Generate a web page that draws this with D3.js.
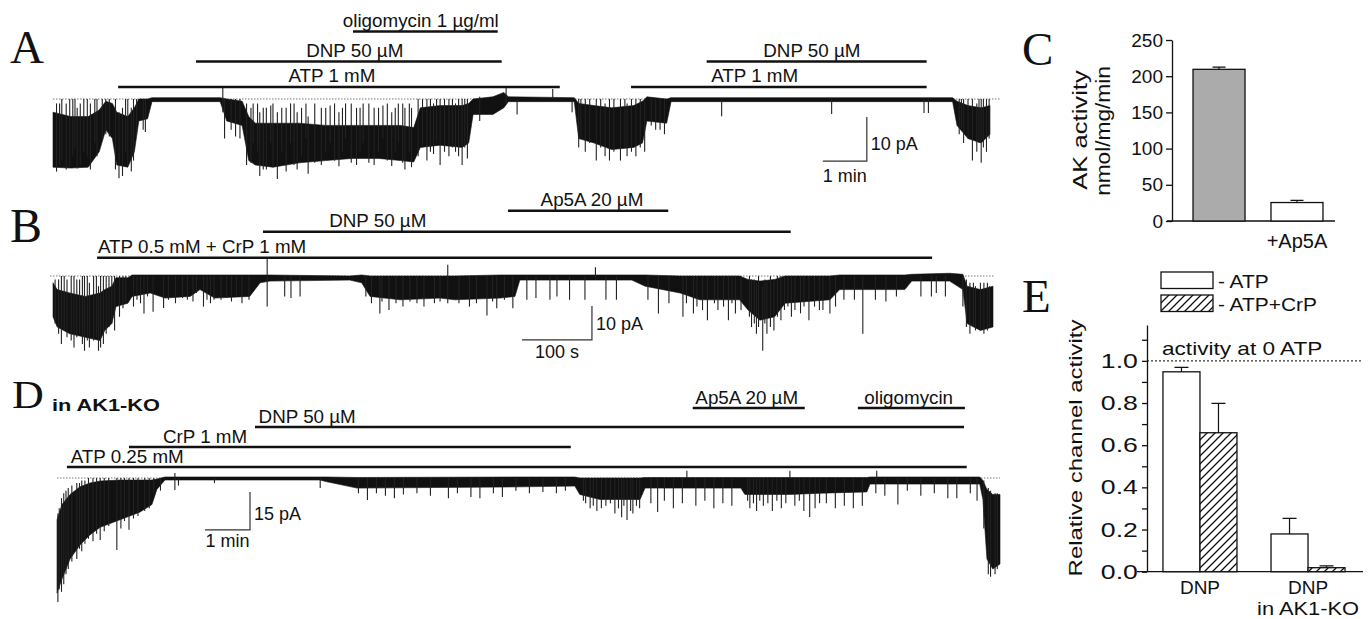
<!DOCTYPE html>
<html>
<head>
<meta charset="utf-8">
<script src="https://cdn.jsdelivr.net/npm/d3@7"></script>
<style>
  body { margin: 0; background: #fff; }
  svg { display: block; }
</style>
</head>
<body>
<svg id="fig" width="1372" height="619"></svg>
<script>
// ---------- data ----------
// traces: [time, top of trace band (pA), bottom of trace band (pA)]
// A, D: time in min, B: time in s. Openings are downward (negative pA).
const traceA_core = [
  [0.00, -3.0, -15.5], [0.40, -4.0, -15.7], [0.80, -4.0, -15.5], [1.05, -2.5, -12.0],
  [1.20, -0.5, -7.0], [1.35, -1.0, -9.0], [1.45, -3.0, -15.0], [1.70, -4.0, -15.5],
  [1.85, -2.0, -12.0], [1.95, 0.0, -5.0], [2.15, 0.0, -4.5], [2.25, 0.3, -0.6],
  [3.80, 0.3, -0.6], [3.95, 0.0, -5.0], [4.30, -0.5, -6.0], [4.45, -4.0, -14.0],
  [4.60, -5.5, -15.0], [5.00, -5.5, -15.5], [5.60, -5.5, -14.5], [6.20, -6.0, -14.0],
  [6.80, -6.0, -13.5], [7.40, -6.0, -13.5], [7.90, -6.0, -14.0], [8.20, -6.5, -14.3],
  [8.35, -2.0, -11.0], [8.80, -1.5, -10.5], [9.30, -1.5, -11.0], [9.45, -1.0, -10.0],
  [9.55, 0.0, -3.5], [10.00, 0.5, -3.5], [10.25, 1.5, -2.0], [10.35, 0.5, -0.6],
  [11.85, 0.3, -0.6], [11.95, -1.0, -9.0], [12.30, -1.5, -10.0], [12.70, -2.0, -11.5],
  [13.20, -1.5, -11.0], [13.40, -0.5, -10.0], [13.50, 0.5, -5.0], [13.95, 0.0, -5.5],
  [14.05, 0.3, -0.6], [20.45, 0.3, -0.6], [20.55, -0.5, -6.0], [20.80, -1.5, -9.0],
  [21.10, -2.0, -10.0], [21.30, -1.5, -8.0]
];
// single excursions: [time, from (pA), to (pA)]
const traceA_spikes = [
  [0.08, -1, -16.5], [0.15, -1, -15], [0.2, 0, -14], [0.3, -1, -16], [0.38, 0, -15.5], [0.45, 0, -13],
  [0.5, 0, -11], [0.55, -2, -15.8], [0.62, -1, -15], [0.7, 0, -12], [0.78, 0, -13], [0.85, -1, -16],
  [0.95, 0, -10], [1.0, 0, -13], [1.12, 0, -9], [1.2, 0, -8], [1.28, 0, -8.5], [1.42, 0, -16],
  [1.5, -3, -18], [1.58, -2, -17.5], [1.65, 0, -12], [1.7, 0, -15], [1.78, -2, -16.5], [1.83, 0, -14],
  [1.9, 0, -8], [2.05, 0, -7], [2.1, 0, -7.5],
  [3.86, 2.5, -3], [3.9, 0, -9], [4.05, 0, -7], [4.15, 0, -8.5], [4.25, 0, -9],
  [4.4, -1, -15], [4.5, -2, -14.5], [4.55, -1, -10], [4.65, -1, -12], [4.7, -3, -17.5], [4.78, -2, -16],
  [4.85, -2, -16], [4.95, -1.5, -10], [5.0, -1, -15.5], [5.1, -3, -18.2], [5.2, -2, -12], [5.3, -2, -16.5],
  [5.4, -1, -10], [5.48, -1, -15], [5.55, -3, -16], [5.65, -2, -13], [5.75, -1, -9], [5.8, -4, -17],
  [5.95, -1, -14.5], [6.1, -2, -15], [6.2, -2, -12], [6.3, -1.5, -10], [6.4, -1, -14], [6.5, -3, -15.3],
  [6.58, -2, -12], [6.65, -1, -9], [6.78, -1, -14.5], [6.9, -2, -15], [6.98, -2, -12], [7.05, -1, -10],
  [7.18, -1, -14.5], [7.3, -2, -15], [7.4, -2, -12], [7.5, -1.5, -9], [7.6, -1, -14], [7.7, -3, -15.2],
  [7.78, -2, -12], [7.85, -1, -10], [7.95, -1, -14.5], [8.0, -2, -16], [8.1, -1, -12], [8.15, -2, -15.5],
  [8.3, 0, -13], [8.4, 0, -11], [8.5, 0, -14], [8.58, 0, -12], [8.65, -1, -12.5], [8.72, 0, -10],
  [8.8, 0, -15], [8.9, 0, -12], [9.0, 0, -13], [9.08, 0, -11], [9.15, -1, -12], [9.22, 0, -13],
  [9.3, 0, -15], [9.36, 0, -11], [9.42, 0, -13.5], [9.7, 0.5, -5], [10.3, 2.5, -1], [10.55, 0, -3.5],
  [11.36, 2.3, 0], [11.8, 0, -3],
  [11.95, 0, -11], [12.0, 0, -9], [12.1, 0, -12], [12.2, 0, -10], [12.35, 0, -14], [12.45, 0, -11],
  [12.55, -1, -13], [12.65, 0, -14], [12.75, 0, -12], [12.9, 0, -14], [13.0, 0, -11], [13.05, -1, -13],
  [13.15, 0, -12], [13.25, 0, -13], [13.35, 0, -11], [13.45, 0, -12], [13.6, 0, -6], [13.7, 0, -7],
  [13.8, 0, -7], [13.9, 0, -8],
  [15.2, 0, -3.9], [17.7, 0, -3.4], [19.8, 0, -3.2], [19.9, 0, -3.2],
  [20.6, 0, -8], [20.65, 0, -7], [20.7, 0, -10], [20.8, 0, -9], [20.9, 0, -14], [21.0, -1, -12],
  [21.05, 0, -10], [21.1, 0, -14.5], [21.15, 0, -11], [21.22, 0, -12], [21.28, 0, -9]
];
// drug applications: label, start, end, bar row, where the label is centred
const drugsA = [
  { label: "ATP 1 mM", start: 1.48, end: 11.52, row: 0, labelAt: 6.34 },
  { label: "DNP 50 µM", start: 3.25, end: 10.2, row: 1, labelAt: 6.86 },
  { label: "oligomycin 1 µg/ml", start: 6.82, end: 10.11, row: 2, labelAt: 8.36 },
  { label: "ATP 1 mM", start: 13.14, end: 19.86, row: 0, labelAt: 15.95 },
  { label: "DNP 50 µM", start: 14.86, end: 19.86, row: 1, labelAt: 17.25 }
];

const traceB_core = [
  [0, -2, -12], [6, -4, -15], [24, -5, -17], [46, -6, -18], [67, -5, -19], [74, -4, -16],
  [84, -3, -14], [90, -0.5, -9], [107, -0.5, -8], [113, 0.3, -6], [139, 0.3, -5], [160, 0.3, -6.5],
  [196, 0.3, -6], [210, 0.3, -4], [231, 0.3, -6.5], [281, 0.3, -6], [296, 0.3, -2], [310, 0.3, -1.5],
  [424, 0, -1.2], [441, 0.3, -2], [453, 0, -6], [496, 0, -7], [553, 0, -6.5], [574, 0, -7],
  [639, 0.3, -6.5], [660, 0.3, -6], [667, 0.3, -1.2], [827, 0.3, -1.2], [846, 0.3, -3], [896, 0, -5],
  [924, 0, -7], [981, 0, -7], [993, -1, -10], [1010, -1.5, -13], [1031, -1, -12], [1046, 0, -8],
  [1110, 0, -7], [1124, 0.3, -4], [1217, 0.3, -4], [1227, 0.5, -1.5], [1281, 0.8, -1.5],
  [1300, 0.5, -4], [1306, -3, -14], [1325, -4, -16], [1343, -3, -15]
];
const traceB_spikes = [
  [3, -1, -14], [8, -1, -17], [12, 0, -20], [16, 0, -16], [20, -1, -18], [26, 0, -19], [30, 0, -21],
  [34, -1, -18], [38, -1, -17], [42, 0, -20], [45, 0, -22], [49, 0, -19], [52, -2, -21], [58, 0, -19],
  [62, 0, -18], [65, -3, -22], [68, 0, -21], [72, 0, -20], [76, 0, -17], [80, 0, -15], [84, 0, -14],
  [88, 0, -16], [95, 0, -12], [100, 0, -9.5], [104, 0, -8],
  [115, 0, -9], [120, 0, -7], [125, 0, -8], [130, 0, -11], [135, 0, -6], [143, 0, -10.5], [158, 0, -9.4],
  [165, 0, -7], [175, 0, -8], [185, 0, -6.5], [192, 0, -7], [200, 0, -7.5], [205, 0, -5], [215, 0, -9],
  [220, 0, -7], [225, 0, -8], [230, 0, -7], [240, 0, -7], [248, 0, -6.5], [255, 0, -7.5], [262, 0, -6],
  [270, 0, -8], [280, 0, -7], [306, 5.3, -9], [331, 0, -6], [340, 0, -6.5], [353, 0, -6],
  [447, 0, -6], [455, 0, -8], [467, 0, -11], [470, 0, -7.5], [480, 0, -10], [490, 0, -8], [500, 0, -9],
  [510, 0, -7.5], [520, 0, -8], [530, 0, -9], [545, 0, -8], [553, 0, -7.5], [564, 3.3, -8], [580, 0, -8],
  [595, 0, -9], [605, 0, -8], [620, 0, -11.6], [628, 0, -7.5], [634, 0, -9.5], [645, 0, -7], [657, 0, -9.5],
  [677, 0, -7], [690, 0, -6.5], [710, 0, -7], [720, 0, -6], [738, 0, -7], [760, 0, -7], [775, 2.6, -1],
  [790, 0, -7], [805, 0, -7], [850, 0, -7], [865, 0, -11], [880, 0, -8], [900, 0, -12], [905, 0, -8],
  [915, 0, -11], [920, 0, -9], [928, 0, -10], [935, 0, -13], [945, 0, -8], [950, 0, -10], [958, 0, -9],
  [965, 0, -13], [970, 0, -8], [975, 0, -11], [983, 0, -10],
  [995, 0, -12], [998, -1, -15], [1002, -1, -14], [1005, -2, -17], [1008, 0, -15], [1014, -3, -22],
  [1017, -1, -14], [1020, -2, -17], [1025, 0, -15], [1030, -1, -16], [1035, 0, -12], [1040, 0, -13],
  [1045, 0, -10], [1050, 0, -9], [1055, 0, -12], [1060, 0, -10], [1068, 0, -11], [1073, 0, -9],
  [1080, 0, -13], [1088, 0, -9], [1095, 0, -10], [1100, 0, -10], [1110, 0, -11], [1118, 0, -9],
  [1130, 0, -7], [1145, 0, -7], [1157, 0, -17], [1175, 0, -7], [1190, 0, -7.5], [1205, 0, -6],
  [1240, 0, -6], [1255, 0, -6], [1262, 0, -5], [1275, 0, -6],
  [1300, 0, -9], [1305, -1, -15], [1310, -2, -17], [1315, -2, -15], [1318, -3, -16], [1325, -2, -16],
  [1330, -2, -17], [1335, -2, -16], [1338, -3, -15]
];
const drugsB = [
  { label: "ATP 0.5 mM + CrP 1 mM", start: 63, end: 1256, row: 0, labelAt: 213 },
  { label: "DNP 50 µM", start: 300, end: 1054, row: 1, labelAt: 464 },
  { label: "Ap5A 20 µM", start: 650, end: 879, row: 2, labelAt: 770 }
];

const traceD_core = [
  [0.00, -16.5, -45.5], [0.11, -10.5, -40], [0.29, -6.5, -32], [0.51, -3.5, -26.5],
  [0.73, -2.0, -22.5], [0.96, -1.2, -19.5], [1.40, -0.8, -16.5], [1.84, -0.8, -13.5],
  [2.11, -0.8, -10.5], [2.22, -0.4, -4.5], [2.40, 0.4, -0.8], [5.84, 0.4, -0.8],
  [6.00, 0.4, -1.5], [6.67, 0.2, -4.0], [10.29, 0.4, -3.5], [11.51, 0.4, -3.2],
  [11.62, 0.0, -6.5], [12.07, 0.0, -8.5], [12.96, 0.0, -8.5], [13.07, 0.2, -4.0],
  [15.20, 0.2, -4.0], [15.29, 0.2, -6.5], [16.29, 0.2, -6.5], [17.00, 0.2, -6.0],
  [18.00, 0.2, -5.5], [18.07, 0.4, -2.4], [20.51, 0.4, -2.4], [20.58, -1.0, -8.5],
  [20.67, -4.5, -32], [20.80, -6.5, -36], [20.96, -6.5, -34]
];
const traceD_spikes = [
  [0.02, -14, -49], [0.05, -12, -44], [0.1, -8, -45], [0.15, -6, -42], [0.2, -5, -38], [0.25, -4, -36],
  [0.33, -3, -33], [0.44, -2, -32], [0.5, -2, -28], [0.55, -1, -29], [0.62, -1, -26], [0.7, 0, -24],
  [0.8, 0, -25], [0.88, 0, -22], [0.96, 0, -24.5], [1.05, 0, -21], [1.15, 0, -19], [1.33, 0, -28.5],
  [1.42, 0, -20], [1.5, 0, -17], [1.6, 0, -20.5], [1.7, 0, -16], [1.8, 0, -15], [1.95, 0, -13],
  [2.05, 0, -12], [2.15, 0, -6], [2.3, 0, -5], [2.62, 2, -4.7], [2.7, 0, -3], [3.5, 0, -2],
  [5.85, 0, -4], [6.7, 0, -6], [6.9, 0, -8.7], [7.1, 0, -6], [7.3, 0, -7], [7.5, 0, -8], [7.7, 0, -6.5],
  [8.0, 0, -6], [8.3, 0, -7], [8.7, 0, -8], [8.9, 0, -6], [9.2, 0, -7.5], [9.4, 0, -8], [9.7, 0, -6],
  [9.9, 0, -7.5], [10.2, 0, -5], [10.5, 0, -6], [10.8, 0, -5.5], [11.1, 0, -6], [11.3, 0, -5],
  [11.7, 0, -9], [11.75, 0, -10], [11.85, 0, -12], [11.92, 0, -11], [12.0, 0, -13], [12.1, 0, -12],
  [12.2, 0, -11], [12.3, 0, -10], [12.4, 0, -14], [12.48, 0, -12], [12.55, 0, -15.5], [12.6, 0, -11],
  [12.67, 0, -16.6], [12.75, 0, -13], [12.8, 0, -14], [12.88, 0, -11], [12.95, 0, -12],
  [13.2, 0, -10], [13.35, 0, -13.4], [13.5, 0, -9], [13.7, 0, -12], [13.9, 0, -10], [14.0, 2.9, 0],
  [14.2, 0, -11], [14.4, 0, -9], [14.6, 0, -12], [14.8, 0, -10], [15.0, 0, -11], [15.35, 0, -9],
  [15.4, 0, -12], [15.48, 0, -10], [15.55, 0, -13], [15.62, 0, -9], [15.7, 0, -11], [15.8, 0, -10],
  [15.9, 0, -13], [16.0, 0, -9], [16.1, 0, -12], [16.2, 0, -10], [16.29, 2.9, 0], [16.4, 0, -11],
  [16.5, 0, -9], [16.6, 0, -13], [16.73, 0, -15.4], [16.85, 0, -12], [16.95, 0, -10],
  [17.1, 0, -10], [17.3, 0, -12], [17.5, 0, -11], [17.7, 0, -12], [17.9, 0, -11], [18.2, 0, -6],
  [18.22, 2.9, 0], [18.4, 0, -7], [18.69, 0, -10.5], [18.9, 0, -5], [19.2, 0, -7], [19.5, 0, -6],
  [19.8, 0, -8], [20.0, 0, -8], [20.3, 0, -6], [20.45, 0, -9],
  [20.6, -1, -20], [20.7, -4, -38], [20.75, -5, -39], [20.85, -6, -38], [20.9, -6, -36]
];
const drugsD = [
  { label: "ATP 0.25 mM", start: 0.22, end: 20.22, row: 0, labelAt: 1.56 },
  { label: "CrP 1 mM", start: 1.6, end: 11.42, row: 1, labelAt: 3.29 },
  { label: "DNP 50 µM", start: 4.4, end: 20.16, row: 2, labelAt: 5.56 },
  { label: "Ap5A 20 µM", start: 14.13, end: 16.62, row: 3, labelAt: 15.33 },
  { label: "oligomycin", start: 17.8, end: 20.18, row: 3, labelAt: 18.93 }
];

// panel C: AK activity (nmol/mg/min)
const akCategories = ["Control", "+Ap5A"];
const akLabels = ["", "+Ap5A"];
const akValues = [209.5, 25.5];
const akErrors = [3, 3];
const akTicks = [0, 50, 100, 150, 200, 250];

// panel E: relative channel activity
const eGroups = ["DNP", "DNP in AK1-KO"];
const eGroupLabels = [["DNP"], ["DNP", "in AK1-KO"]];
const eSeries = ["- ATP", "- ATP+CrP"];
const eValues = [[0.948, 0.659], [0.179, 0.019]];
const eErrors = [[0.021, 0.139], [0.074, 0.009]];
const eTicks = [0, 0.1, 0.2, 0.3, 0.4, 0.5, 0.6, 0.7, 0.8, 0.9, 1.0, 1.1];

// ---------- drawing ----------
const SANS = '"Liberation Sans", Arial, sans-serif';
const SERIF = '"Liberation Serif", "Times New Roman", serif';
const INK = '#111';
const svg = d3.select('#fig');

function addText(parent, x, y, str, o = {}) {
  return parent.append('text')
    .attr('transform', `translate(${x},${y}) rotate(${o.rotate || 0}) scale(${o.sx || 1},1)`)
    .attr('font-family', o.family || SANS)
    .attr('font-size', o.size || 18)
    .attr('font-weight', o.weight || 'normal')
    .attr('text-anchor', o.anchor || 'start')
    .attr('fill', INK)
    .text(str);
}

const tracePanels = [
  { core: traceA_core, spikes: traceA_spikes, drugs: drugsA,
    xDomain: [0, 21.3], xRange: [53, 990], zeroY: 99, pxPerPA: 4.4, dots: [53, 1000],
    rows: [87, 61.5, 31.5], gap: 5,
    bar: { t: 18.5, p: -4.1, tLen: 1, pLen: 10, tText: "1 min", pText: "10 pA", pDy: 11, tDy: 21 } },
  { core: traceB_core, spikes: traceB_spikes, drugs: drugsB,
    xDomain: [0, 1343], xRange: [53, 993], zeroY: 276, pxPerPA: 3.4, dots: [50, 995],
    rows: [257.7, 231.7, 210.7], gap: 5,
    bar: { t: 770, p: -8.8, tLen: 100, pLen: 10, tText: "100 s", pText: "10 pA", pDy: 7, tDy: 18 } },
  { core: traceD_core, spikes: traceD_spikes, drugs: drugsD,
    xDomain: [0, 20.96], xRange: [57, 1000], zeroY: 478, pxPerPA: 2.53, dots: [57, 1000],
    rows: [467, 447, 427, 408], gap: 4,
    bar: { t: 4.29, p: -5.5, tLen: 1, pLen: 15, tText: "1 min", pText: "15 pA", pDy: 9, tDy: 17 } }
];

tracePanels.forEach(cfg => {
  const x = d3.scaleLinear().domain(cfg.xDomain).range(cfg.xRange);
  const y = d3.scaleLinear().domain([0, -1]).range([cfg.zeroY, cfg.zeroY + cfg.pxPerPA]);
  const g = svg.append('g');

  // zero-current level
  g.append('line')
    .attr('x1', cfg.dots[0]).attr('x2', cfg.dots[1])
    .attr('y1', y(0)).attr('y2', y(0))
    .attr('stroke', '#777').attr('stroke-width', 1)
    .attr('stroke-dasharray', '1.5,1.5');

  const area = d3.area()
    .x(d => x(d[0]))
    .y0(d => y(d[1]))
    .y1(d => y(d[2]));
  g.append('path')
    .attr('d', area(cfg.core))
    .attr('fill', INK).attr('stroke', INK).attr('stroke-width', 0.6);

  g.selectAll('line.spike')
    .data(cfg.spikes)
    .join('line')
    .attr('class', 'spike')
    .attr('x1', d => x(d[0])).attr('x2', d => x(d[0]))
    .attr('y1', d => y(d[1])).attr('y2', d => y(d[2]))
    .attr('stroke', '#222').attr('stroke-width', 1.1);

  // drug application bars
  cfg.drugs.forEach(dr => {
    const ly = cfg.rows[dr.row];
    g.append('line')
      .attr('x1', x(dr.start)).attr('x2', x(dr.end))
      .attr('y1', ly).attr('y2', ly)
      .attr('stroke', INK).attr('stroke-width', 2.5);
    addText(g, x(dr.labelAt), ly - cfg.gap, dr.label, { anchor: 'middle', size: 18.8 });
  });

  // scale bar
  const b = cfg.bar;
  const bx = x(b.t), by0 = y(b.p), by1 = y(b.p - b.pLen);
  g.append('path')
    .attr('d', `M${bx},${by0}V${by1}H${x(b.t - b.tLen)}`)
    .attr('fill', 'none').attr('stroke', '#333').attr('stroke-width', 1.2);
  addText(g, bx + 4, (by0 + by1) / 2 + b.pDy, b.pText, { size: 18 });
  addText(g, x(b.t - b.tLen / 2), by1 + b.tDy, b.tText, { size: 18, anchor: 'middle' });
});

// panel letters
addText(svg, 10, 63, "A", { family: SERIF, size: 47 });
addText(svg, 10, 242, "B", { family: SERIF, size: 48 });
addText(svg, 1022, 65, "C", { family: SERIF, size: 47 });
addText(svg, 12, 408, "D", { family: SERIF, size: 40, sx: 1.1 });
addText(svg, 1022, 312, "E", { family: SERIF, size: 47 });
addText(svg, 52, 411, "in AK1-KO", { size: 17, weight: 'bold', sx: 1.28 });

// ---------- panel C ----------
{
  const g = svg.append('g');
  const x = d3.scaleBand().domain(akCategories).range([1180, 1336])
    .paddingInner(0.333).paddingOuter(0.167);
  const y = d3.scaleLinear().domain([0, 250]).range([221, 40]);

  const ax = g.append('g').attr('transform', 'translate(1172,0)')
    .call(d3.axisLeft(y).tickValues(akTicks).tickSize(6).tickSizeOuter(0).tickPadding(3));
  ax.attr('font-family', SANS).attr('font-size', 19);
  ax.selectAll('path, line').attr('stroke', INK).attr('stroke-width', 1.3);
  ax.selectAll('text').attr('fill', INK);

  g.append('line').attr('x1', 1167).attr('x2', 1335).attr('y1', y(0)).attr('y2', y(0))
    .attr('stroke', INK).attr('stroke-width', 1.3);

  g.selectAll('rect.bar').data(akCategories).join('rect')
    .attr('x', d => x(d)).attr('width', x.bandwidth())
    .attr('y', (d, i) => y(akValues[i])).attr('height', (d, i) => y(0) - y(akValues[i]))
    .attr('fill', (d, i) => i === 0 ? '#ababab' : '#fff')
    .attr('stroke', INK).attr('stroke-width', 1.3);

  akCategories.forEach((c, i) => {
    const cx = x(c) + x.bandwidth() / 2;
    const top = y(akValues[i] + akErrors[i]);
    g.append('path').attr('d', `M${cx},${y(akValues[i])}V${top}M${cx - 6.5},${top}H${cx + 6.5}`)
      .attr('stroke', INK).attr('stroke-width', 1.2).attr('fill', 'none');
    if (akLabels[i]) addText(g, cx, 248, akLabels[i], { size: 20, anchor: 'middle' });
  });

  addText(g, 1087, 130, "AK activity", { size: 21, rotate: -90, anchor: 'middle', sx: 1.22 });
  addText(g, 1110, 131, "nmol/mg/min", { size: 21, rotate: -90, anchor: 'middle', sx: 1.08 });
}

// ---------- panel E ----------
{
  const g = svg.append('g');
  const defs = svg.append('defs');
  const pat = defs.append('pattern').attr('id', 'hatch')
    .attr('patternUnits', 'userSpaceOnUse').attr('width', 8).attr('height', 8);
  pat.append('rect').attr('width', 8).attr('height', 8).attr('fill', '#fff');
  pat.append('path').attr('d', 'M-2,2L2,-2M0,8L8,0M6,10L10,6')
    .attr('stroke', INK).attr('stroke-width', 1.3);
  const fills = ['#fff', 'url(#hatch)'];

  const x0 = d3.scaleBand().domain(eGroups).range([1146, 1362])
    .paddingInner(0.315).paddingOuter(0.157);
  const x1 = d3.scaleBand().domain(eSeries).range([0, x0.bandwidth()]);
  const y = d3.scaleLinear().domain([0, 1.17]).range([571.7, 325]);

  // reference line: activity at 0 ATP
  g.append('line').attr('x1', 1147).attr('x2', 1361).attr('y1', y(1)).attr('y2', y(1))
    .attr('stroke', '#333').attr('stroke-width', 1.1).attr('stroke-dasharray', '2,2');
  addText(g, 1162, 355, "activity at 0 ATP", { size: 19, sx: 1.19 });

  const ax = g.append('g').attr('transform', 'translate(1147,0)')
    .call(d3.axisLeft(y).tickValues(eTicks).tickSize(5).tickSizeOuter(0)
      .tickFormat(d => Math.round(d * 10) % 2 === 0 ? d.toFixed(1) : ''));
  ax.attr('font-family', SANS).attr('font-size', 20.5);
  ax.selectAll('path, line').attr('stroke', INK).attr('stroke-width', 1.3);
  ax.selectAll('text').attr('fill', INK).attr('x', -7).attr('transform', 'scale(1.3,1)');

  g.append('line').attr('x1', 1137).attr('x2', 1363).attr('y1', y(0)).attr('y2', y(0))
    .attr('stroke', INK).attr('stroke-width', 1.3);

  eGroups.forEach((grp, gi) => {
    eSeries.forEach((s, si) => {
      const bx = x0(grp) + x1(s);
      const v = eValues[gi][si];
      g.append('rect')
        .attr('x', bx).attr('width', x1.bandwidth())
        .attr('y', y(v)).attr('height', y(0) - y(v))
        .attr('fill', fills[si]).attr('stroke', INK).attr('stroke-width', 1.3);
      const cx = bx + x1.bandwidth() / 2;
      const top = y(v + eErrors[gi][si]);
      g.append('path').attr('d', `M${cx},${y(v)}V${top}M${cx - 7},${top}H${cx + 7}`)
        .attr('stroke', INK).attr('stroke-width', 1.2).attr('fill', 'none');
    });
    const gx = x0(grp) + x0.bandwidth() / 2;
    eGroupLabels[gi].forEach((line, li) => {
      addText(g, gx, 594 + li * 21, line, { size: 19, anchor: 'middle', sx: li ? 1.15 : 1 });
    });
  });

  // legend
  eSeries.forEach((s, si) => {
    const ly = 272 + si * 23;
    g.append('rect').attr('x', 1161).attr('y', ly).attr('width', 52).attr('height', 16.5)
      .attr('fill', fills[si]).attr('stroke', INK).attr('stroke-width', 1.3);
    addText(g, 1218, ly + 16, s, { size: 19, sx: 1.1 });
  });

  addText(g, 1082, 448, "Relative channel activity", { size: 19, rotate: -90, anchor: 'middle', sx: 1.26 });
}
</script>
</body>
</html>
